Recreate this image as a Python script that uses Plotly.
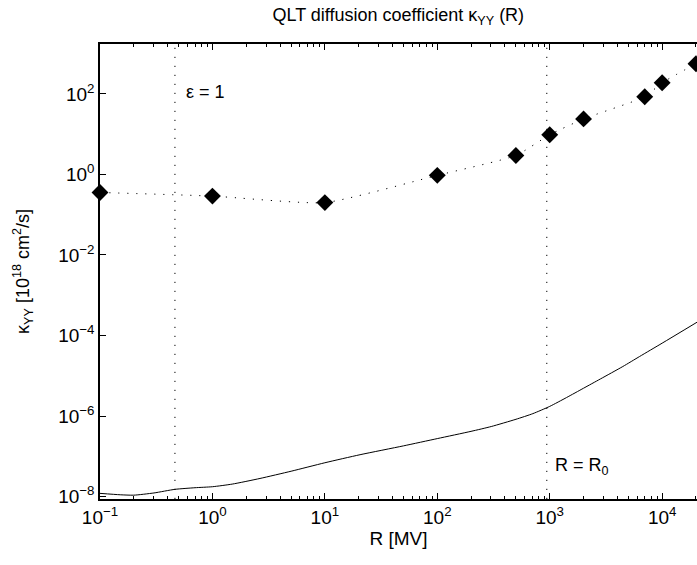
import plotly.graph_objects as go

# Diamond data points (QLT kappa_YY)
r_pts = [0.1, 1, 10, 100, 500, 1000, 2000, 7000, 10000, 20000]
k_pts = [0.357, 0.29, 0.2, 0.95, 2.96, 9.7, 24, 85, 190, 560]

# Solid curve (log10 values)
logr_curve = [-1, -0.82, -0.7, -0.52, -0.333, -0.155, 0, 0.176, 0.423, 0.7, 1, 1.313, 1.7, 2,
              2.3, 2.48, 2.7, 2.85, 3, 3.15, 3.3, 3.45, 3.65, 3.8, 4, 4.31]
logk_curve = [-7.92, -7.955, -7.965, -7.91, -7.82, -7.78, -7.755, -7.69, -7.55, -7.37, -7.16,
              -6.96, -6.74, -6.56, -6.38, -6.26, -6.08, -5.94, -5.76, -5.54, -5.31, -5.08,
              -4.77, -4.52, -4.19, -3.67]
r_curve = [10 ** v for v in logr_curve]
k_curve = [10 ** v for v in logk_curve]

# Reference vertical lines
eps_x = 0.464
r0_x = 942

# Tick labels
x_tickvals = [0.1, 1, 10, 100, 1000, 10000]
x_ticktext = ["10<sup>−1</sup>", "10<sup>0</sup>", "10<sup>1</sup>", "10<sup>2</sup>",
              "10<sup>3</sup>", "10<sup>4</sup>"]
y_tickvals = [1e-8, 1e-6, 1e-4, 1e-2, 1, 100]
y_ticktext = ["10<sup>−8</sup>", "10<sup>−6</sup>", "10<sup>−4</sup>", "10<sup>−2</sup>",
              "10<sup>0</sup>", "10<sup>2</sup>"]
x_minor = [m * d for d in [0.1, 1, 10, 100, 1000, 10000] for m in range(2, 10)]

y_rng = [-8.06, 3.24]
x_rng = [-1, 4.31]

fig = go.Figure()
for xv in [eps_x, r0_x]:
    fig.add_trace(go.Scatter(x=[xv, xv], y=[10 ** y_rng[0], 10 ** y_rng[1]], mode="lines",
                             line=dict(color="black", width=1, dash="1.2px,7.8px"),
                             showlegend=False, hoverinfo="skip"))
fig.add_trace(go.Scatter(x=r_curve, y=k_curve, mode="lines",
                         line=dict(color="black", width=1, shape="spline", smoothing=0.6),
                         showlegend=False))
fig.add_trace(go.Scatter(x=r_pts, y=k_pts, mode="lines+markers",
                         line=dict(color="black", width=1, dash="1.2px,7.8px", shape="spline", smoothing=0.5),
                         marker=dict(symbol="diamond", size=13, color="black"),
                         showlegend=False, cliponaxis=False))

fig.add_annotation(x=-0.25, y=2.05, xref="x", yref="y", text="ε = 1", showarrow=False,
                   xanchor="left", font=dict(size=18, color="black"))
fig.add_annotation(x=3.03, y=-7.25, xref="x", yref="y", text="R = R<sub>0</sub>", showarrow=False,
                   xanchor="left", font=dict(size=18, color="black"))

fig.update_layout(
    width=697, height=565,
    margin=dict(l=100, r=0, t=44, b=66),
    paper_bgcolor="white", plot_bgcolor="white",
    font=dict(family="Liberation Sans, Arial, sans-serif", size=18, color="black"),
    title=dict(text="QLT diffusion coefficient κ<sub>YY</sub> (R)", x=0.5715, xanchor="center",
               y=0.985, yanchor="top", font=dict(size=18)),
)
fig.update_xaxes(type="log", range=x_rng, tickmode="array", tickvals=x_tickvals, ticktext=x_ticktext,
                 showgrid=False, zeroline=False, showline=True, linecolor="black", linewidth=1.5,
                 ticks="inside", ticklen=6, tickcolor="black", mirror="allticks",
                 minor=dict(ticks="inside", ticklen=3, tickcolor="black", tickmode="array",
                            tickvals=x_minor, showgrid=False),
                 title=dict(text="R [MV]", standoff=2, font=dict(size=19)), tickfont=dict(size=19))
fig.update_yaxes(type="log", range=y_rng, tickmode="array", tickvals=y_tickvals, ticktext=y_ticktext,
                 showgrid=False, zeroline=False, showline=True, linecolor="black", linewidth=1.5,
                 ticks="inside", ticklen=6, tickcolor="black",
                 title=dict(text="κ<sub>YY</sub> [10<sup>18</sup> cm<sup>2</sup>/s]", standoff=24,
                            font=dict(size=18)),
                 tickfont=dict(size=19))

fig.write_html("out.html")
